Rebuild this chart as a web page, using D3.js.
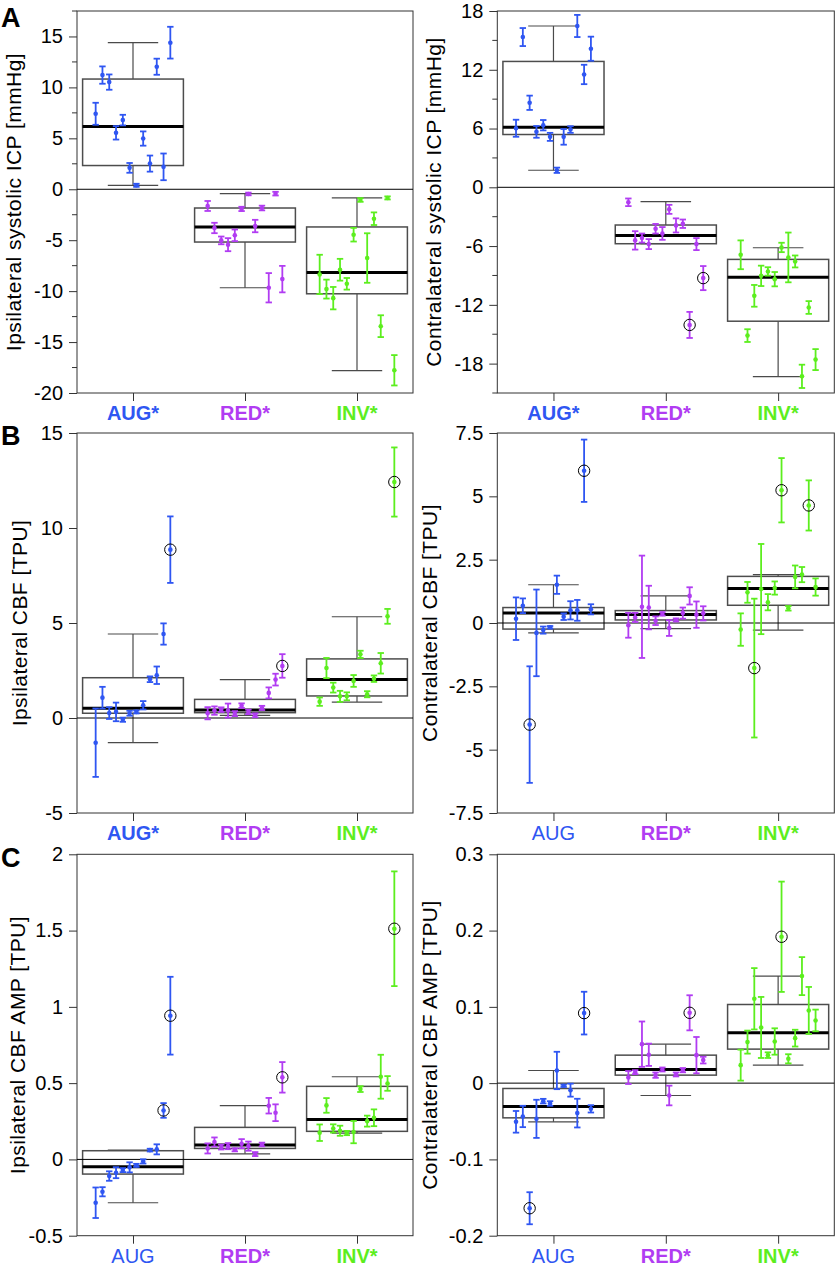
<!DOCTYPE html>
<html>
<head>
<meta charset="utf-8">
<script src="https://cdn.jsdelivr.net/npm/d3@7"></script>
<style>
  body { margin: 0; background: #fff; }
  svg { display: block; }
  text { font-family: "Liberation Sans", Arial, Helvetica, sans-serif; }
</style>
</head>
<body>
<svg id="chart" width="835" height="1271"></svg>
<script>
// groups
const groups = ["AUG", "RED", "INV"];
const groupColors = ["#2f56f2", "#b13cf2", "#5cee1e"];

// A - ipsilateral systolic ICP
const ipsiIcpMean = [
  [7.41, 11.21, 10.52, 5.54, 6.79, 2.10, 0.39, 4.98, 2.52, 12.03, 2.20, 14.39],
  [-1.64, -3.80, -5.02, -5.44, -4.52, -1.93, -0.46, -3.61, -1.84, -9.67, -0.43, -8.82],
  [-8.36, -9.80, -10.69, -7.90, -9.28, -4.46, -1.05, -6.75, -2.89, -13.44, -0.85, -17.77]
];
const ipsiIcpErr = [
  [1.08, 0.85, 0.75, 0.66, 0.52, 0.48, 0.15, 0.70, 0.79, 0.79, 1.31, 1.56],
  [0.49, 0.51, 0.38, 0.64, 0.57, 0.21, 0.13, 0.61, 0.23, 1.44, 0.18, 1.30],
  [1.93, 0.93, 1.10, 1.07, 0.57, 0.67, 0.18, 2.43, 0.62, 1.07, 0.15, 1.49]
];
// [low whisker, q1, median, q3, high whisker]
const ipsiIcpBox = [[0.39, 2.33, 6.16, 10.82, 14.39], [-9.67, -5.18, -3.70, -1.84, -0.43], [-17.80, -10.26, -8.16, -3.70, -0.85]];
const ipsiIcpCircled = [[], [], []];
const ipsiIcpStars = [true, true, true];
const ipsiIcpTicks = [-20, -15, -10, -5, 0, 5, 10, 15];

// A - contralateral systolic ICP
const contraIcpMean = [
  [6.03, 15.34, 8.63, 5.66, 6.34, 5.15, 1.74, 5.15, 5.90, 16.47, 11.52, 14.15],
  [-1.53, -5.42, -5.18, -5.80, -4.23, -4.71, -2.25, -3.89, -3.72, -14.05, -5.80, -9.27],
  [-6.89, -15.14, -11.08, -9.04, -8.59, -9.38, -6.14, -7.16, -7.57, -19.30, -12.27, -17.59]
];
const contraIcpErr = [
  [0.87, 0.92, 0.73, 0.60, 0.53, 0.41, 0.27, 0.80, 0.34, 1.13, 0.99, 1.23],
  [0.39, 0.94, 0.46, 0.51, 0.49, 0.65, 0.46, 0.72, 0.43, 1.33, 0.61, 1.23],
  [1.47, 0.65, 1.11, 1.04, 0.43, 0.73, 0.48, 2.54, 0.61, 1.19, 0.65, 1.07]
];
const contraIcpBox = [[1.74, 5.39, 6.14, 12.85, 16.47], [-5.76, -5.76, -4.91, -3.85, -1.47], [-19.33, -13.67, -9.17, -7.36, -6.17]];
const contraIcpCircled = [[], [9, 11], []];
const contraIcpStars = [true, true, true];
const contraIcpTicks = [-18, -12, -6, 0, 6, 12, 18];

// B - ipsilateral CBF
const ipsiCbfMean = [
  [-1.30, 1.07, 0.26, 0.32, -0.09, 0.25, 0.32, 0.67, 2.04, 2.25, 4.42, 8.86],
  [0.25, 0.39, 0.44, 0.39, 0.23, 0.65, 0.32, 0.14, 0.53, 1.32, 2.02, 2.74],
  [0.86, 2.63, 1.60, 1.14, 1.14, 1.95, 3.35, 1.25, 2.07, 2.88, 5.35, 12.42]
];
const ipsiCbfErr = [
  [1.80, 0.57, 0.31, 0.49, 0.11, 0.13, 0.08, 0.22, 0.15, 0.46, 0.56, 1.75],
  [0.32, 0.22, 0.12, 0.37, 0.13, 0.12, 0.12, 0.10, 0.11, 0.29, 0.31, 0.62],
  [0.22, 0.53, 0.26, 0.29, 0.21, 0.31, 0.19, 0.16, 0.17, 0.54, 0.39, 1.82]
];
const ipsiCbfBox = [[-1.30, 0.25, 0.51, 2.12, 4.42], [0.14, 0.28, 0.42, 0.98, 2.02], [0.84, 1.16, 2.02, 3.11, 5.33]];
const ipsiCbfCircled = [[11], [11], [11]];
const ipsiCbfStars = [true, true, true];
const ipsiCbfTicks = [-5, 0, 5, 10, 15];

// B - contralateral CBF
const contraCbfMean = [
  [0.17, 0.68, -4.01, -0.39, -0.28, -0.17, 1.51, 0.25, 0.50, 0.50, 6.01, 0.54],
  [-0.09, 0.22, 0.64, 0.61, 0.09, 0.36, -0.20, 0.12, 0.39, 1.07, 0.33, 0.38],
  [-0.26, 1.21, -1.78, 1.34, 0.82, 1.38, 5.24, 0.58, 1.82, 1.91, 4.64, 1.42]
];
const contraCbfErr = [
  [0.84, 0.29, 2.30, 1.71, 0.14, 0.05, 0.36, 0.13, 0.36, 0.41, 1.23, 0.20],
  [0.49, 0.18, 2.02, 0.86, 0.17, 0.07, 0.31, 0.06, 0.22, 0.34, 0.52, 0.28],
  [0.64, 0.41, 2.74, 1.78, 0.32, 0.26, 1.27, 0.09, 0.45, 0.30, 0.99, 0.34]
];
const contraCbfBox = [[-0.39, -0.24, 0.39, 0.61, 1.51], [-0.22, 0.12, 0.34, 0.49, 1.07], [-0.28, 0.70, 1.36, 1.84, 1.91]];
const contraCbfCircled = [[2, 10], [], [2, 6, 10]];
const contraCbfStars = [false, true, true];
const contraCbfTicks = [-7.5, -5, -2.5, 0, 2.5, 5, 7.5];

// C - ipsilateral CBF amplitude
const ipsiAmpMean = [
  [-0.284, -0.212, -0.109, -0.087, -0.070, -0.052, -0.039, -0.013, 0.061, 0.066, 0.321, 0.942],
  [0.072, 0.114, 0.081, 0.087, 0.063, 0.103, 0.087, 0.035, 0.098, 0.352, 0.306, 0.538],
  [0.175, 0.354, 0.203, 0.188, 0.173, 0.179, 0.461, 0.251, 0.273, 0.542, 0.498, 1.512]
];
const ipsiAmpErr = [
  [0.100, 0.030, 0.031, 0.036, 0.013, 0.033, 0.010, 0.014, 0.009, 0.033, 0.048, 0.255],
  [0.033, 0.030, 0.016, 0.020, 0.010, 0.030, 0.030, 0.013, 0.012, 0.051, 0.055, 0.100],
  [0.054, 0.048, 0.027, 0.033, 0.014, 0.073, 0.019, 0.036, 0.055, 0.144, 0.048, 0.376]
];
const ipsiAmpBox = [[-0.284, -0.096, -0.048, 0.057, 0.061], [0.037, 0.072, 0.094, 0.21, 0.352], [0.173, 0.184, 0.262, 0.479, 0.542]];
const ipsiAmpCircled = [[10, 11], [11], [11]];
const ipsiAmpStars = [false, true, true];
const ipsiAmpTicks = [-0.5, 0, 0.5, 1, 1.5, 2];

// C - contralateral CBF amplitude
const contraAmpMean = [
  [-0.0507, -0.0437, -0.164, -0.0468, -0.0236, -0.0267, 0.0166, -0.0035, -0.0092, -0.0393, 0.0918, -0.0337],
  [0.0074, 0.0144, 0.0511, 0.0372, 0.0105, 0.0179, -0.0162, 0.0114, 0.0170, 0.0922, 0.0367, 0.0302],
  [0.0236, 0.0538, 0.1106, 0.0730, 0.0367, 0.0546, 0.1919, 0.0319, 0.0590, 0.1403, 0.0953, 0.0822]
];
const contraAmpErr = [
  [0.0142, 0.0140, 0.0210, 0.0250, 0.0030, 0.0030, 0.0245, 0.0015, 0.0085, 0.0188, 0.0280, 0.0048],
  [0.0085, 0.0026, 0.0297, 0.0146, 0.0035, 0.0026, 0.0129, 0.0026, 0.0028, 0.0230, 0.0238, 0.0044],
  [0.0203, 0.0151, 0.0402, 0.0400, 0.0037, 0.0173, 0.0723, 0.0060, 0.0110, 0.0249, 0.0308, 0.0142]
];
const contraAmpBox = [[-0.0507, -0.0455, -0.0306, -0.007, 0.0166], [-0.0162, 0.0105, 0.0179, 0.0367, 0.0511], [0.0236, 0.0446, 0.066, 0.1031, 0.1403]];
const contraAmpCircled = [[2, 10], [9], [6]];
const contraAmpStars = [false, true, true];
const contraAmpTicks = [-0.2, -0.1, 0, 0.1, 0.2, 0.3];

const panels = [
  { letter: "A", row: 0, col: 0, title: "Ipsilateral systolic ICP [mmHg]", mean: ipsiIcpMean, err: ipsiIcpErr, box: ipsiIcpBox, circled: ipsiIcpCircled, stars: ipsiIcpStars, ticks: ipsiIcpTicks, domain: [-20, 17.5], minor: 2.5, titleX: 21 },
  { row: 0, col: 1, title: "Contralateral systolic ICP [mmHg]", mean: contraIcpMean, err: contraIcpErr, box: contraIcpBox, circled: contraIcpCircled, stars: contraIcpStars, ticks: contraIcpTicks, domain: [-21, 18], minor: 3, titleX: 441 },
  { letter: "B", row: 1, col: 0, title: "Ipsilateral CBF [TPU]", mean: ipsiCbfMean, err: ipsiCbfErr, box: ipsiCbfBox, circled: ipsiCbfCircled, stars: ipsiCbfStars, ticks: ipsiCbfTicks, domain: [-5, 15], titleX: 27 },
  { row: 1, col: 1, title: "Contralateral CBF [TPU]", mean: contraCbfMean, err: contraCbfErr, box: contraCbfBox, circled: contraCbfCircled, stars: contraCbfStars, ticks: contraCbfTicks, domain: [-7.5, 7.5], titleX: 437 },
  { letter: "C", row: 2, col: 0, title: "Ipsilateral CBF AMP [TPU]", mean: ipsiAmpMean, err: ipsiAmpErr, box: ipsiAmpBox, circled: ipsiAmpCircled, stars: ipsiAmpStars, ticks: ipsiAmpTicks, domain: [-0.5, 2], titleX: 25 },
  { row: 2, col: 1, title: "Contralateral CBF AMP [TPU]", mean: contraAmpMean, err: contraAmpErr, box: contraAmpBox, circled: contraAmpCircled, stars: contraAmpStars, ticks: contraAmpTicks, domain: [-0.2, 0.3], titleX: 437 }
];

const colX = [[77, 413], [497.3, 834.3]];
const rowY = [[11, 393], [433, 813], [854.3, 1235.7]];
const letterY = [27, 445, 867];

const svg = d3.select("#chart");
const fmt = d => String(+d.toFixed(2));
// spread of the 12 subjects within a group
const jitter = d3.scalePoint().domain(d3.range(12)).range([-1 / 3, 1 / 3]);

panels.forEach(p => {
  const [x0, x1] = colX[p.col];
  const [y0, y1] = rowY[p.row];
  const x = d3.scaleLinear().domain([0.5, 3.5]).range([x0, x1]);
  const y = d3.scaleLinear().domain(p.domain).range([y1, y0]);
  const g = svg.append("g");

  if (p.letter) {
    g.append("text").attr("x", 1).attr("y", letterY[p.row])
      .attr("font-size", 27).attr("font-weight", "bold").attr("fill", "#000")
      .text(p.letter);
  }

  // y axis
  const yAxis = d3.axisLeft(y).tickValues(p.ticks).tickFormat(fmt).tickSize(8).tickPadding(6);
  const ya = g.append("g").attr("transform", `translate(${x0},0)`).call(yAxis);
  ya.select(".domain").remove();
  ya.selectAll("line").attr("stroke", "#333");
  ya.selectAll("text").attr("font-size", 20).attr("fill", "#000").attr("font-family", null);

  if (p.minor) {
    const minorTicks = d3.range(p.domain[0], p.domain[1] + 1e-9, p.minor)
      .filter(v => !p.ticks.some(t => Math.abs(t - v) < 1e-9));
    g.append("g").selectAll("line").data(minorTicks).join("line")
      .attr("x1", x0 - 5).attr("x2", x0)
      .attr("y1", d => y(d)).attr("y2", d => y(d))
      .attr("stroke", "#333");
  }

  // x axis ticks + labels
  const xa = g.append("g").attr("transform", `translate(0,${y1})`)
    .call(d3.axisBottom(x).tickValues([1, 2, 3]).tickFormat("").tickSize(8));
  xa.select(".domain").remove();
  xa.selectAll("line").attr("stroke", "#333");

  g.append("g").selectAll("text").data(groups).join("text")
    .attr("x", (d, i) => x(i + 1)).attr("y", y1 + 27)
    .attr("text-anchor", "middle").attr("font-size", 20)
    .attr("font-weight", (d, i) => p.stars[i] ? "bold" : "normal")
    .attr("fill", (d, i) => groupColors[i])
    .text((d, i) => d + (p.stars[i] ? "*" : ""));

  // axis title
  g.append("text")
    .attr("transform", `translate(${p.titleX},${(y0 + y1) / 2}) rotate(-90)`)
    .attr("text-anchor", "middle").attr("font-size", 21).attr("letter-spacing", 0.45)
    .attr("fill", "#000").text(p.title);

  // frame
  g.append("rect").attr("x", x0).attr("y", y0).attr("width", x1 - x0).attr("height", y1 - y0)
    .attr("fill", "none").attr("stroke", "#333").attr("stroke-width", 1);

  // box plots
  const boxes = g.append("g");
  p.box.forEach((b, i) => {
    const cx = i + 1;
    const [lo, q1, med, q3, hi] = b;
    const wg = boxes.append("g").attr("stroke", "#4a4a4a").attr("stroke-width", 1.2);
    wg.append("line").attr("x1", x(cx)).attr("x2", x(cx)).attr("y1", y(q3)).attr("y2", y(hi));
    wg.append("line").attr("x1", x(cx)).attr("x2", x(cx)).attr("y1", y(q1)).attr("y2", y(lo));
    [lo, hi].forEach(v => {
      wg.append("line").attr("x1", x(cx - 0.225)).attr("x2", x(cx + 0.225)).attr("y1", y(v)).attr("y2", y(v));
    });
    boxes.append("rect")
      .attr("x", x(cx - 0.45)).attr("width", x(cx + 0.45) - x(cx - 0.45))
      .attr("y", y(q3)).attr("height", y(q1) - y(q3))
      .attr("fill", "none").attr("stroke", "#4d4d4d").attr("stroke-width", 1.5);
    boxes.append("line").attr("x1", x(cx - 0.45)).attr("x2", x(cx + 0.45))
      .attr("y1", y(med)).attr("y2", y(med)).attr("stroke", "#000").attr("stroke-width", 3);
  });

  // zero line
  g.append("line").attr("x1", x0).attr("x2", x1).attr("y1", y(0)).attr("y2", y(0))
    .attr("stroke", "#000").attr("stroke-width", 1);

  // subjects with error bars
  p.mean.forEach((vals, gi) => {
    const pts = vals.map((v, k) => ({ v, e: p.err[gi][k], px: x(gi + 1 + jitter(k)), circ: p.circled[gi].includes(k) }));
    const pg = g.append("g").attr("stroke", groupColors[gi]).attr("fill", groupColors[gi]);
    pts.forEach(d => {
      const top = y(d.v + d.e), bot = y(d.v - d.e);
      pg.append("line").attr("x1", d.px).attr("x2", d.px).attr("y1", top).attr("y2", bot).attr("stroke-width", 1.8);
      pg.append("line").attr("x1", d.px - 3.2).attr("x2", d.px + 3.2).attr("y1", top).attr("y2", top).attr("stroke-width", 1.8);
      pg.append("line").attr("x1", d.px - 3.2).attr("x2", d.px + 3.2).attr("y1", bot).attr("y2", bot).attr("stroke-width", 1.8);
      pg.append("circle").attr("cx", d.px).attr("cy", y(d.v)).attr("r", 2.3).attr("stroke", "none");
      if (d.circ) {
        g.append("circle").attr("cx", d.px).attr("cy", y(d.v)).attr("r", 5.7)
          .attr("fill", "none").attr("stroke", "#000").attr("stroke-width", 1);
      }
    });
  });
});
</script>
</body>
</html>
